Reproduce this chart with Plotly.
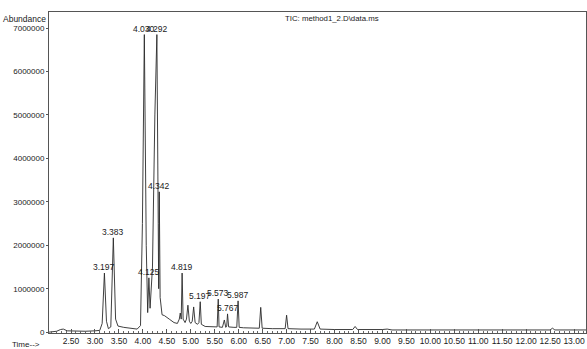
import plotly.graph_objects as go

# ---- hand-read chromatogram trace (retention time in min, abundance) ----
rt = [2.04, 2.20, 2.28, 2.34, 2.42, 2.60, 2.80, 3.00, 3.10, 3.15, 3.197, 3.24, 3.28, 3.33, 3.383, 3.43,
      3.48, 3.60, 3.75, 3.88, 3.95, 3.99, 4.030, 4.07, 4.10, 4.125, 4.15, 4.20, 4.25, 4.292, 4.32, 4.330,
      4.342, 4.36, 4.40, 4.45, 4.55, 4.65, 4.72, 4.76, 4.78, 4.80, 4.819, 4.84, 4.88, 4.91, 4.94, 4.97,
      5.00, 5.03, 5.06, 5.09, 5.14, 5.17, 5.197, 5.22, 5.30, 5.40, 5.50, 5.55, 5.573, 5.59, 5.66, 5.70,
      5.73, 5.75, 5.767, 5.79, 5.90, 5.96, 5.987, 6.01, 6.10, 6.30, 6.43, 6.46, 6.49, 6.70, 6.97, 7.00,
      7.03, 7.30, 7.58, 7.64, 7.70, 8.00, 8.38, 8.43, 8.48, 9.00, 9.10, 9.20, 10.0, 11.0, 12.0, 12.50,
      12.55, 12.60, 13.0, 13.25]
abundance = [0, 20000, 60000, 70000, 30000, 20000, 20000, 30000, 40000, 200000, 1360000, 250000, 80000,
             120000, 2170000, 300000, 140000, 110000, 80000, 70000, 150000, 2500000, 6850000, 2000000,
             450000, 1250000, 550000, 1500000, 5000000, 6850000, 2500000, 1000000, 3230000, 800000,
             400000, 380000, 300000, 220000, 200000, 300000, 440000, 300000, 1360000, 300000, 220000,
             300000, 620000, 250000, 200000, 250000, 580000, 220000, 180000, 220000, 700000, 180000,
             130000, 120000, 110000, 120000, 760000, 120000, 110000, 280000, 110000, 140000, 420000,
             120000, 110000, 110000, 720000, 110000, 100000, 90000, 90000, 570000, 90000, 80000, 80000,
             390000, 80000, 70000, 70000, 240000, 70000, 60000, 60000, 130000, 60000, 60000, 70000,
             50000, 50000, 50000, 50000, 50000, 90000, 50000, 50000, 50000]

# ---- labelled peaks ----
peak_rt = [3.197, 3.383, 4.030, 4.292, 4.125, 4.342, 4.819, 5.197, 5.573, 5.767, 5.987]
peak_height = [1360000, 2170000, 6850000, 6850000, 1250000, 3230000, 1360000, 700000, 760000, 420000, 720000]
peak_label = ["3.197", "3.383", "4.030", "4.292", "4.125", "4.342", "4.819", "5.197", "5.573", "5.767", "5.987"]

# ---- axis ticks ----
x_ticks = [2.5 + 0.5 * i for i in range(22)]
x_ticktext = ["%.2f" % v for v in x_ticks]
y_ticks = [0, 1000000, 2000000, 3000000, 4000000, 5000000, 6000000, 7000000]
y_ticktext = [str(v) for v in y_ticks]

FONT = "Liberation Sans, Arial, sans-serif"
INK = "#1a1a1a"

fig = go.Figure()
fig.add_trace(go.Scatter(x=rt, y=abundance, mode="lines",
                         line=dict(color="#2a2a2a", width=0.9), hoverinfo="skip",
                         showlegend=False))

for t, h, lab in zip(peak_rt, peak_height, peak_label):
    fig.add_annotation(x=t, y=h, text=lab, showarrow=False, xanchor="center",
                       yanchor="bottom", yshift=-1,
                       font=dict(family=FONT, size=8.5, color=INK))

fig.add_annotation(xref="paper", yref="paper", x=0, y=0.978, text="Abundance",
                   showarrow=False, xanchor="right", yanchor="middle", xshift=-1,
                   font=dict(family=FONT, size=8.5, color=INK))
fig.add_annotation(xref="paper", yref="paper", x=0.436, y=0.981,
                   text="TIC: method1_2.D\\data.ms", showarrow=False,
                   xanchor="left", yanchor="middle",
                   font=dict(family=FONT, size=7.8, color=INK))
fig.add_annotation(xref="paper", yref="paper", x=-0.072, y=-0.036, text="Time-->",
                   showarrow=False, xanchor="left", yanchor="middle",
                   font=dict(family=FONT, size=8, color=INK))

fig.update_layout(
    width=587, height=349,
    margin=dict(l=49, r=1, t=12, b=16),
    paper_bgcolor="white", plot_bgcolor="white",
    xaxis=dict(range=[2.04, 13.25], tickvals=x_ticks, ticktext=x_ticktext, tickangle=0,
               showgrid=False, zeroline=False, showline=True, mirror=True,
               linecolor="#555", linewidth=1, ticks="inside", ticklen=4,
               tickcolor="#555", tickfont=dict(family=FONT, size=8.5, color=INK),
               minor=dict(dtick=0.1, ticks="inside", ticklen=2.5, tickcolor="#666")),
    yaxis=dict(range=[-20000, 7370000], tickvals=y_ticks, ticktext=y_ticktext,
               showgrid=False, zeroline=False, showline=True, mirror=True,
               linecolor="#555", linewidth=1, ticks="outside", ticklen=2,
               tickcolor="#555", tickfont=dict(family=FONT, size=8, color=INK)),
)

fig.write_html("out.html", config={"displayModeBar": False},
               post_script="document.body.style.margin='0';document.body.style.padding='0';"
                           "document.body.style.overflow='hidden';")
